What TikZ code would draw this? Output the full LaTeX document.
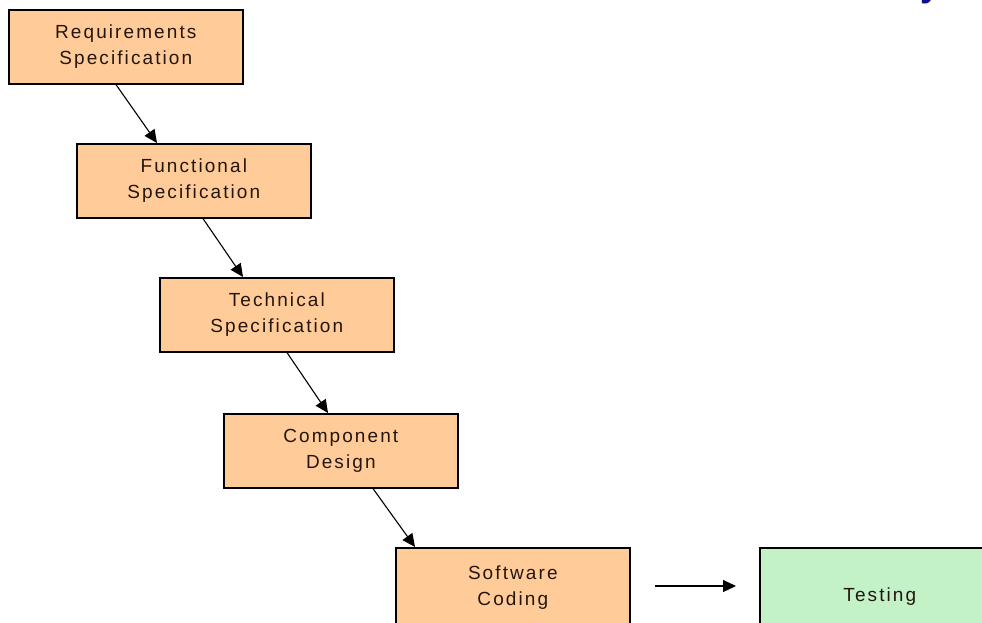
\documentclass[tikz,border=0pt]{standalone}
\usepackage{fontspec}
\setmainfont{Liberation Sans}[LetterSpace=11]
\usetikzlibrary{arrows.meta,calc}
\definecolor{peach}{HTML}{FFCC99}
\definecolor{mint}{HTML}{C2F2C6}
\definecolor{ink}{HTML}{24160F}
\definecolor{navyblue}{HTML}{10108A}
\tikzset{
  stage/.style={draw=black, line width=1.6pt, fill=peach, text=ink,
    minimum width=234pt, minimum height=74pt, anchor=north west,
    align=center, inner sep=0pt, font=\fontsize{19}{26}\selectfont},
  testbox/.style={stage, fill=mint},
  flow/.style={draw=black, line width=1.1pt,
    -{Triangle[length=13pt,width=12pt]}}
}
\begin{document}
\begin{tikzpicture}[x=1pt,y=-1pt]
  \useasboundingbox (0,0) rectangle (982,622);
  \begin{scope}
    \clip (0,0) rectangle (982,622);
    \fill[white] (0,0) rectangle (982,622);
    % waterfall stages
    \node[stage] (req)  at (8,9)     {Requirements\\Specification};
    \node[stage] (func) at (76,143)  {Functional\\Specification};
    \node[stage] (tech) at (159,277) {Technical\\Specification};
    \node[stage] (comp) at (223,413) {Component\\Design};
    \node[stage, minimum height=80pt] (soft) at (395,547) {Software\\Coding};
    \node[testbox, minimum height=98pt, minimum width=240pt] (test) at (759,547) {Testing};
    % stage-to-stage connectors
    \draw[flow] ($(req.south west)+(108,0)$)  -- ($(func.north west)+(81,0)$);
    \draw[flow] ($(func.south west)+(127,0)$) -- ($(tech.north west)+(84,0)$);
    \draw[flow] ($(tech.south west)+(128,0)$) -- ($(comp.north west)+(105,0)$);
    \draw[flow] ($(comp.south west)+(150,0)$) -- ($(soft.north west)+(20,0)$);
    \draw[flow] ($(soft.north east)+(24,39)$) -- ($(test.north west)+(-23,39)$);
    % tail of the heading letter above the page
    \node[text=navyblue, font=\bfseries\fontsize{36}{36}\selectfont, anchor=south, inner sep=0pt]
      (head) at (930,4) {y};
  \end{scope}
\end{tikzpicture}
\end{document}
